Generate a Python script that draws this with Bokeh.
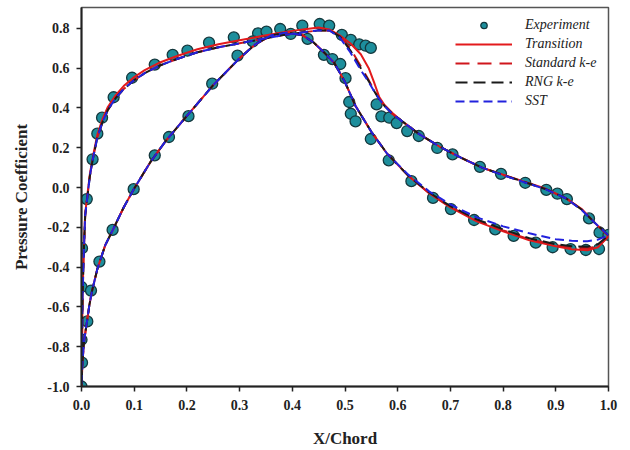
from bokeh.plotting import figure
from bokeh.models import (Legend, LegendItem, FixedTicker, NumeralTickFormatter, Range1d)
from bokeh.embed import file_html
from bokeh.resources import INLINE

# ---------------- Experimental data ----------------
exp_x_upper = [0.0, 0.0, 0.001, 0.010, 0.021, 0.030, 0.039, 0.061, 0.096, 0.139, 0.173, 0.201,
               0.242, 0.289, 0.335, 0.351, 0.377, 0.419, 0.452, 0.470, 0.494, 0.511, 0.527,
               0.539, 0.549, 0.560, 0.569, 0.584, 0.598, 0.618, 0.640, 0.675, 0.704, 0.756,
               0.796, 0.842, 0.882, 0.903, 0.921, 0.963, 0.983, 1.0]
exp_cp_upper = [-0.765, -0.50, -0.305, -0.058, 0.142, 0.271, 0.351, 0.454, 0.552, 0.618, 0.667, 0.688,
                0.728, 0.755, 0.775, 0.784, 0.797, 0.814, 0.822, 0.814, 0.767, 0.742, 0.720,
                0.713, 0.702, 0.418, 0.358, 0.351, 0.324, 0.284, 0.259, 0.199, 0.167, 0.104,
                0.069, 0.024, -0.012, -0.031, -0.058, -0.155, -0.226, -0.238]
exp_x_lower = [0.0, 0.001, 0.011, 0.018, 0.034, 0.059, 0.099, 0.139, 0.166, 0.203, 0.248, 0.296,
               0.325, 0.397, 0.429, 0.460, 0.476, 0.491, 0.501, 0.508, 0.511, 0.520, 0.549,
               0.583, 0.626, 0.667, 0.701, 0.745, 0.785, 0.820, 0.862, 0.894, 0.928, 0.957, 0.982]
exp_cp_lower = [-1.0, -0.88, -0.673, -0.518, -0.372, -0.213, -0.008, 0.162, 0.254, 0.359, 0.522, 0.663,
                0.735, 0.772, 0.747, 0.667, 0.646, 0.621, 0.550, 0.430, 0.371, 0.333, 0.244,
                0.137, 0.032, -0.052, -0.108, -0.163, -0.210, -0.243, -0.277, -0.300, -0.309, -0.314, -0.309]

# ---------------- CFD curves ----------------
xu = [0.0, 0.001, 0.002, 0.004, 0.007, 0.011, 0.016, 0.022, 0.03, 0.04, 0.05, 0.065, 0.08, 0.1,
      0.12, 0.15, 0.18, 0.22, 0.26, 0.3, 0.34, 0.38, 0.42, 0.45, 0.47, 0.49, 0.51, 0.53, 0.545,
      0.555, 0.565, 0.575, 0.59, 0.61, 0.64, 0.68, 0.72, 0.76, 0.8, 0.84, 0.88, 0.92, 0.95, 0.975, 1.0]
xl = [0.0, 0.002, 0.005, 0.01, 0.015, 0.02, 0.03, 0.045, 0.06, 0.08, 0.1, 0.13, 0.16, 0.2, 0.25,
      0.3, 0.33, 0.36, 0.39, 0.42, 0.44, 0.46, 0.48, 0.5, 0.52, 0.55, 0.58, 0.62, 0.66, 0.7, 0.75,
      0.8, 0.85, 0.9, 0.93, 0.96, 0.98, 1.0]

trans_u = [-1.0, -0.78, -0.55, -0.33, -0.13, -0.04, 0.07, 0.16, 0.265, 0.345, 0.405, 0.465, 0.51, 0.555,
           0.59, 0.63, 0.66, 0.695, 0.72, 0.74, 0.76, 0.78, 0.795, 0.805, 0.795, 0.765, 0.725, 0.67, 0.60,
           0.53, 0.455, 0.415, 0.375, 0.33, 0.27, 0.205, 0.15, 0.10, 0.065, 0.03, -0.005, -0.055, -0.11, -0.18, -0.245]
trans_l = [-1.0, -0.87, -0.77, -0.68, -0.59, -0.52, -0.41, -0.29, -0.21, -0.10, -0.005, 0.125, 0.235, 0.36, 0.515,
           0.65, 0.72, 0.765, 0.78, 0.765, 0.73, 0.68, 0.625, 0.53, 0.41, 0.28, 0.17, 0.06, -0.03, -0.10, -0.17,
           -0.22, -0.265, -0.295, -0.31, -0.315, -0.30, -0.245]

ske_u = [-1.0, -0.78, -0.56, -0.35, -0.14, -0.05, 0.06, 0.15, 0.25, 0.33, 0.39, 0.45, 0.495, 0.54,
         0.575, 0.615, 0.645, 0.68, 0.705, 0.725, 0.745, 0.765, 0.78, 0.79, 0.79, 0.765, 0.70, 0.61, 0.54,
         0.49, 0.445, 0.41, 0.37, 0.33, 0.27, 0.205, 0.15, 0.10, 0.063, 0.028, -0.007, -0.055, -0.113, -0.18, -0.24]
ske_l = [-1.0, -0.87, -0.77, -0.68, -0.59, -0.52, -0.41, -0.29, -0.21, -0.10, -0.005, 0.125, 0.235, 0.36, 0.515,
         0.65, 0.72, 0.765, 0.78, 0.765, 0.73, 0.68, 0.625, 0.53, 0.41, 0.28, 0.17, 0.06, -0.028, -0.097, -0.165,
         -0.215, -0.26, -0.29, -0.30, -0.305, -0.295, -0.245]

rng_u = [-1.0, -0.78, -0.56, -0.35, -0.14, -0.05, 0.06, 0.15, 0.25, 0.33, 0.39, 0.45, 0.495, 0.54,
         0.575, 0.615, 0.645, 0.68, 0.705, 0.725, 0.745, 0.765, 0.78, 0.79, 0.79, 0.76, 0.69, 0.60, 0.535,
         0.487, 0.443, 0.41, 0.37, 0.33, 0.27, 0.205, 0.15, 0.10, 0.063, 0.028, -0.007, -0.055, -0.113, -0.18, -0.24]
rng_l = [-1.0, -0.87, -0.77, -0.68, -0.59, -0.52, -0.41, -0.29, -0.21, -0.10, -0.005, 0.125, 0.235, 0.36, 0.515,
         0.65, 0.72, 0.765, 0.78, 0.765, 0.73, 0.68, 0.625, 0.53, 0.41, 0.28, 0.17, 0.06, -0.025, -0.093, -0.16,
         -0.21, -0.255, -0.285, -0.295, -0.298, -0.285, -0.24]

sst_u = [-1.0, -0.78, -0.56, -0.35, -0.14, -0.05, 0.06, 0.15, 0.25, 0.33, 0.39, 0.45, 0.495, 0.54,
         0.575, 0.615, 0.645, 0.68, 0.705, 0.725, 0.745, 0.765, 0.78, 0.79, 0.79, 0.755, 0.68, 0.59, 0.53,
         0.485, 0.445, 0.41, 0.37, 0.33, 0.27, 0.205, 0.15, 0.10, 0.062, 0.027, -0.008, -0.055, -0.115, -0.18, -0.24]
sst_l = [-1.0, -0.87, -0.77, -0.68, -0.59, -0.52, -0.41, -0.29, -0.21, -0.10, -0.005, 0.125, 0.235, 0.36, 0.515,
         0.65, 0.72, 0.765, 0.78, 0.765, 0.73, 0.68, 0.625, 0.53, 0.41, 0.28, 0.17, 0.065, -0.02, -0.085, -0.15,
         -0.195, -0.23, -0.26, -0.268, -0.27, -0.262, -0.24]

x_ticks = [0.0, 0.1, 0.2, 0.3, 0.4, 0.5, 0.6, 0.7, 0.8, 0.9, 1.0]
y_ticks = [-1.0, -0.8, -0.6, -0.4, -0.2, 0.0, 0.2, 0.4, 0.6, 0.8]

SERIF = "Liberation Serif"

p = figure(width=630, height=450, output_backend="svg", toolbar_location=None,
           x_range=Range1d(0.0, 1.0), y_range=Range1d(-1.0, 0.905),
           min_border_left=81, min_border_right=22, min_border_top=7, min_border_bottom=63)
p.grid.visible = False
p.background_fill_color = "white"
p.border_fill_color = "white"
p.outline_line_color = "#555555"
p.outline_line_width = 1.5

for ax in (p.xaxis[0], p.yaxis[0]):
    ax.axis_line_width = 2
    ax.axis_line_color = "#222222"
    ax.major_tick_line_width = 1.5
    ax.major_tick_line_color = "#222222"
    ax.major_tick_out = 5
    ax.major_tick_in = 0
    ax.minor_tick_line_color = None
    ax.major_label_text_font = SERIF
    ax.major_label_text_font_style = "bold"
    ax.major_label_text_font_size = "14px"
    ax.major_label_text_color = "#222222"
    ax.axis_label_text_font = SERIF
    ax.axis_label_text_font_style = "bold"
    ax.axis_label_text_font_size = "17px"
    ax.axis_label_text_color = "#222222"
    ax.formatter = NumeralTickFormatter(format="0.0")

p.xaxis[0].ticker = FixedTicker(ticks=x_ticks)
p.yaxis[0].ticker = FixedTicker(ticks=y_ticks)
p.xaxis[0].axis_label = "X/Chord"
p.yaxis[0].axis_label = "Pressure Coefficient"
p.xaxis[0].major_label_standoff = 8
p.yaxis[0].major_label_standoff = 7
p.xaxis[0].axis_label_standoff = 16
p.yaxis[0].axis_label_standoff = 13

# experiment markers
r_exp = p.scatter(exp_x_upper + exp_x_lower, exp_cp_upper + exp_cp_lower, size=11,
                  fill_color="#1d8e9c", line_color="#14383d", line_width=1.3)

def loop(u, l):
    return u[::-1] + l[1:]

xx = loop(xu, xl)
r_tr = p.line(xx, loop(trans_u, trans_l), line_color="#e31a1c", line_width=2)
r_sk = p.line(xx, loop(ske_u, ske_l), line_color="#d0161c", line_width=2, line_dash="14 8")
r_rn = p.line(xx, loop(rng_u, rng_l), line_color="#1a1a1a", line_width=2, line_dash="12 6")
r_ss = p.line(xx, loop(sst_u, sst_l), line_color="#2222dd", line_width=2, line_dash="9 5")

legend = Legend(items=[
    LegendItem(label="Experiment", renderers=[r_exp]),
    LegendItem(label="Transition", renderers=[r_tr]),
    LegendItem(label="Standard k-e", renderers=[r_sk]),
    LegendItem(label="RNG k-e", renderers=[r_rn]),
    LegendItem(label="SST", renderers=[r_ss]),
], location=(374, 277))
legend.padding = 0
legend.margin = 0
legend.spacing = 3
legend.glyph_width = 57
legend.glyph_height = 16
legend.label_height = 16
legend.label_standoff = 13
legend.label_text_font = SERIF
legend.label_text_font_style = "italic"
legend.label_text_font_size = "14px"
legend.label_text_color = "#222222"
legend.background_fill_alpha = 0
legend.border_line_alpha = 0
p.add_layout(legend, "center")

open("out.html", "w").write(file_html(p, INLINE))
